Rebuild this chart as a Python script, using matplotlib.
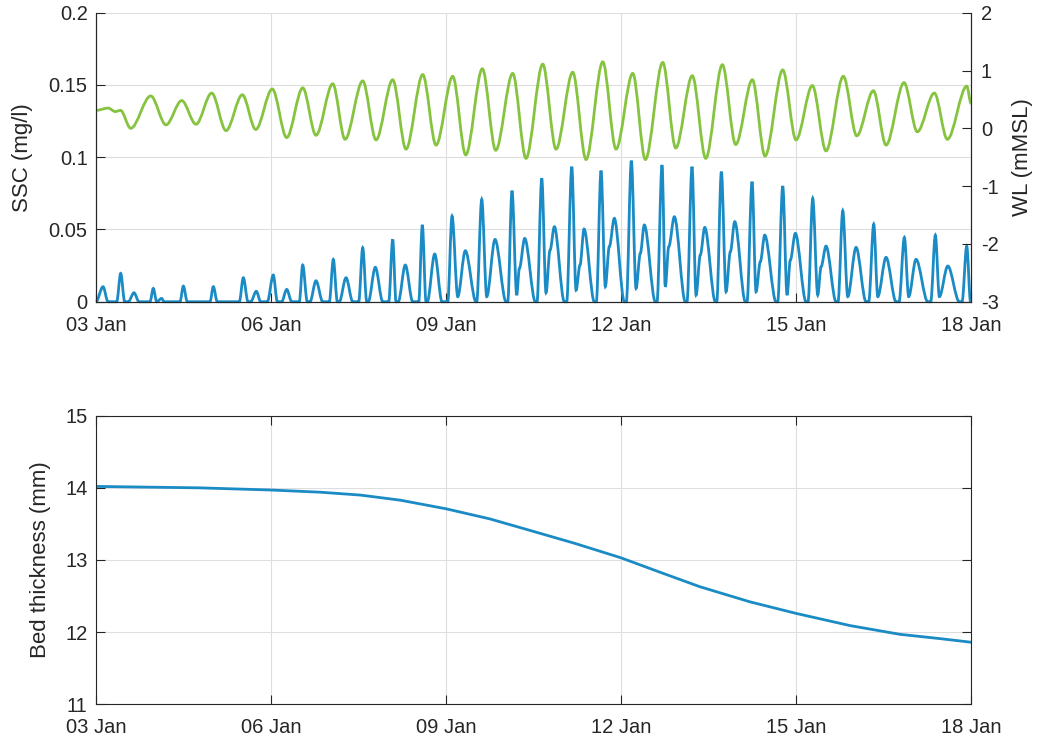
import matplotlib.pyplot as plt
import numpy as np
from matplotlib.path import Path
from matplotlib.patches import PathPatch

plt.rcParams['font.family'] = ['Liberation Sans', 'DejaVu Sans']
plt.rcParams['axes.unicode_minus'] = False

# days since 03 Jan 00:00
day_ticks = [0, 3, 6, 9, 12, 15]
day_labels = ['03 Jan', '06 Jan', '09 Jan', '12 Jan', '15 Jan', '18 Jan']

# water level turning points (day, mMSL)
wl_t = [0.00, 0.21, 0.33, 0.42, 0.595, 0.938, 1.200, 1.469, 1.714, 1.983, 2.229,
        2.508, 2.738, 3.022, 3.269, 3.544, 3.771, 4.058, 4.269, 4.572, 4.800,
        5.086, 5.314, 5.601, 5.829, 6.115, 6.338, 6.623, 6.852, 7.143, 7.371,
        7.658, 7.886, 8.172, 8.400, 8.687, 8.914, 9.201, 9.417, 9.715, 9.938,
        10.222, 10.452, 10.737, 10.966, 11.251, 11.469, 11.772, 12.000, 12.280,
        12.514, 12.811, 13.041, 13.326, 13.543, 13.851, 14.079, 14.371, 14.594,
        14.927, 15.0]
wl_v = [0.31, 0.35, 0.29, 0.31, 0.00, 0.56, 0.06, 0.48, 0.07, 0.61, -0.04,
        0.58, -0.02, 0.68, -0.16, 0.70, -0.12, 0.77, -0.19, 0.82, -0.20,
        0.84, -0.36, 0.93, -0.29, 0.90, -0.46, 1.03, -0.38, 0.95, -0.52,
        1.11, -0.36, 0.97, -0.54, 1.15, -0.36, 0.95, -0.54, 1.14, -0.34,
        0.91, -0.52, 1.10, -0.28, 0.84, -0.48, 1.01, -0.20, 0.74,
        -0.39, 0.90, -0.13, 0.65, -0.29, 0.79, -0.06, 0.61, -0.19,
        0.73, 0.43]

# suspended sediment concentration turning points (day, mg/l)
ssc_t = [0.00, 0.12, 0.206,
         0.355, 0.423, 0.492, 0.554, 0.651, 0.737,
         0.926, 0.982, 1.041, 1.126, 1.166,
         1.440, 1.497, 1.565, 1.954, 2.011, 2.079,
         2.457, 2.525, 2.606, 2.652, 2.748, 2.823,
         2.937, 3.039, 3.108, 3.183, 3.269, 3.355,
         3.485, 3.543, 3.622, 3.669, 3.771, 3.886,
         4.000, 4.068, 4.137, 4.171, 4.286, 4.401,
         4.503, 4.572, 4.641, 4.668, 4.788, 4.915,
         5.018, 5.086, 5.143, 5.182, 5.302, 5.429,
         5.532, 5.594, 5.657, 5.679, 5.806, 5.931,
         6.029, 6.103, 6.201, 6.331, 6.514,
         6.526, 6.612, 6.698, 6.840, 7.029,
         7.058, 7.131, 7.212, 7.257, 7.349, 7.531,
         7.560, 7.641, 7.714, 7.783, 7.857, 8.028,
         8.069, 8.155, 8.229, 8.297, 8.366, 8.542,
         8.577, 8.657, 8.731, 8.799, 8.885, 9.057,
         9.091, 9.177, 9.257, 9.331, 9.399, 9.588,
         9.617, 9.703, 9.759, 9.818, 9.914, 10.102,
         10.131, 10.217, 10.286, 10.359, 10.435, 10.617,
         10.641, 10.720, 10.800, 10.874, 10.949, 11.131,
         11.160, 11.246, 11.314, 11.388, 11.463, 11.657,
         11.686, 11.772, 11.846, 11.902, 11.988, 12.171,
         12.206, 12.286, 12.372, 12.429, 12.514, 12.686,
         12.720, 12.801, 12.886, 13.029, 13.200,
         13.246, 13.332, 13.401, 13.543, 13.714,
         13.766, 13.857, 13.931, 14.057, 14.258,
         14.309, 14.388, 14.457, 14.601, 14.799,
         14.846, 14.926, 14.991]
ssc_v = [0.0, 0.0104, 0.0,
         0.0, 0.0196, 0.0, 0.0, 0.0062, 0.0,
         0.0, 0.0092, 0.0, 0.0023, 0.0,
         0.0, 0.0108, 0.0, 0.0, 0.0104, 0.0,
         0.0, 0.0166, 0.0, 0.0, 0.0072, 0.0,
         0.0, 0.0185, 0.0, 0.0, 0.0085, 0.0,
         0.0, 0.0254, 0.0, 0.0, 0.0145, 0.0,
         0.0, 0.0293, 0.0, 0.0, 0.0166, 0.0,
         0.0, 0.0374, 0.0, 0.0, 0.0238, 0.0,
         0.0, 0.0431, 0.0, 0.0, 0.0254, 0.0,
         0.0, 0.0531, 0.0, 0.0, 0.0330, 0.0,
         0.0, 0.0593, 0.0035, 0.0353, 0.0,
         0.0, 0.0708, 0.0035, 0.0431, 0.0,
         0.0, 0.0768, 0.0046, 0.0230, 0.0438, 0.0,
         0.0, 0.0854, 0.0062, 0.0357, 0.0519, 0.0,
         0.0, 0.0934, 0.0080, 0.0254, 0.0503, 0.0,
         0.0, 0.0907, 0.0104, 0.0381, 0.0577, 0.0,
         0.0, 0.0976, 0.0092, 0.0335, 0.0531, 0.0,
         0.0, 0.0946, 0.0104, 0.0381, 0.0588, 0.0,
         0.0, 0.0934, 0.0046, 0.0323, 0.0514, 0.0,
         0.0, 0.0900, 0.0069, 0.0346, 0.0554, 0.0,
         0.0, 0.0830, 0.0069, 0.0277, 0.0461, 0.0,
         0.0, 0.0800, 0.0046, 0.0288, 0.0473, 0.0,
         0.0, 0.0715, 0.0046, 0.0242, 0.0385, 0.0,
         0.0, 0.0630, 0.0035, 0.0376, 0.0,
         0.0, 0.0537, 0.0035, 0.0307, 0.0,
         0.0, 0.0445, 0.0035, 0.0293, 0.0,
         0.0, 0.0461, 0.0035, 0.0247, 0.0,
         0.0, 0.0385, 0.0]

# bed thickness (day, mm)
bed_t = [0.0, 1.78, 3.0, 3.84, 4.53, 5.21, 6.0, 6.75, 7.44, 8.21, 9.0, 9.67,
         10.35, 11.21, 12.0, 12.93, 13.78, 14.47, 15.0]
bed_v = [14.02, 14.00, 13.97, 13.94, 13.90, 13.83, 13.71, 13.57, 13.41,
         13.23, 13.03, 12.83, 12.63, 12.42, 12.26, 12.09, 11.97, 11.91, 11.86]

blue = '#1a8bc4'
green = '#86c440'
dark = '#262626'
grid_col = '#dedede'
tick_fs = 14.5
label_fs = 16


def turning_point_path(t, v):
    # cubic segments with flat tangents at every turning point
    verts = [(t[0], v[0])]
    codes = [Path.MOVETO]
    for i in range(len(t) - 1):
        d = (t[i + 1] - t[i]) / 3.0
        verts += [(t[i] + d, v[i]), (t[i + 1] - d, v[i + 1]), (t[i + 1], v[i + 1])]
        codes += [Path.CURVE4] * 3
    return Path(verts, codes)


def style_axis(ax):
    for s in ax.spines.values():
        s.set_color(dark)
        s.set_linewidth(0.8)
    ax.tick_params(direction='in', length=6.5, width=0.8, colors=dark,
                   labelsize=tick_fs, labelcolor=dark)
    ax.tick_params(axis='x', pad=10)
    ax.tick_params(axis='y', pad=6)
    ax.set_xlim(0, 15)
    ax.set_xticks(day_ticks)
    ax.set_xticklabels(day_labels)
    ax.grid(True, color=grid_col, linewidth=0.8)
    ax.set_axisbelow(True)


def place_ylabel(ax, text, x):
    ax.set_ylabel(text, fontsize=label_fs, color=dark)
    ax.yaxis.set_label_coords(x, 0.5)
    ax.yaxis.label.set_verticalalignment('center')


fig = plt.figure(figsize=(10.39, 7.43), dpi=100)

ax1 = fig.add_axes([0.0924, 0.5939, 0.8422, 0.389])
style_axis(ax1)
ax1.spines['top'].set_visible(False)
ax1.set_ylim(0, 0.2)
ax1.set_yticks([0, 0.05, 0.1, 0.15, 0.2])
ax1.set_yticklabels(['0', '0.05', '0.1', '0.15', '0.2'])
place_ylabel(ax1, 'SSC (mg/l)', -0.084)
ax1.add_patch(PathPatch(turning_point_path(ssc_t, ssc_v), fill=False,
                        edgecolor=blue, linewidth=2.0, clip_on=False))

ax2 = ax1.twinx()
ax2.set_ylim(-3, 2)
ax2.set_yticks([-3, -2, -1, 0, 1, 2])
ax2.spines['top'].set_visible(False)
for s in ax2.spines.values():
    s.set_color(dark)
    s.set_linewidth(0.8)
ax2.tick_params(direction='in', length=6.5, width=0.8, colors=dark,
                labelsize=tick_fs, pad=7)
place_ylabel(ax2, 'WL (mMSL)', 1.059)
ax2.add_patch(PathPatch(turning_point_path(wl_t, wl_v), fill=False,
                        edgecolor=green, linewidth=2.0, clip_on=False))
ax2.set_xlim(0, 15)

ax3 = fig.add_axes([0.0924, 0.0521, 0.8422, 0.3884])
style_axis(ax3)
ax3.tick_params(top=True, right=True)
ax3.plot(bed_t, bed_v, color=blue, linewidth=2.0)
ax3.set_ylim(11, 15)
ax3.set_yticks([11, 12, 13, 14, 15])
place_ylabel(ax3, 'Bed thickness (mm)', -0.063)

fig.savefig('out.png', dpi=100)
